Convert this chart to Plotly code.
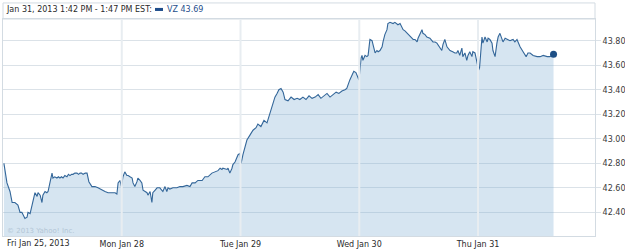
import plotly.graph_objects as go

# ---- data ----
day_labels = ["Fri Jan 25, 2013", "Mon Jan 28", "Tue Jan 29", "Wed Jan 30", "Thu Jan 31"]
session_minutes = 390  # 9:30 - 16:00
y_ticks = [42.40, 42.60, 42.80, 43.00, 43.20, 43.40, 43.60, 43.80]

# minutes after the open, and price
fri_min = [3, 13, 23, 30, 39, 49, 56, 62, 66, 72, 79, 82, 89, 95, 99, 105, 112, 115, 122, 128,
           131, 138, 144, 148, 154, 161, 164, 170, 177, 182, 187, 192, 197, 203, 210, 215, 220,
           225, 230, 236, 243, 248, 253, 258, 263, 270, 276, 282, 292, 302, 312, 325, 335, 345,
           358, 368, 374, 378, 384, 389]
fri_px = [42.80, 42.64, 42.57, 42.48, 42.48, 42.46, 42.40, 42.40, 42.38, 42.35, 42.36, 42.40,
          42.39, 42.46, 42.48, 42.56, 42.53, 42.56, 42.54, 42.48, 42.54, 42.57, 42.56, 42.57,
          42.64, 42.72, 42.68, 42.69, 42.68, 42.69, 42.68, 42.69, 42.68, 42.70, 42.69, 42.71,
          42.70, 42.71, 42.71, 42.72, 42.72, 42.71, 42.72, 42.72, 42.71, 42.72, 42.72, 42.65,
          42.61, 42.61, 42.60, 42.58, 42.57, 42.56, 42.56, 42.56, 42.55, 42.64, 42.66, 42.61]

mon_min = [4, 10, 17, 21, 27, 34, 37, 43, 50, 53, 60, 66, 70, 76, 83, 86, 93, 99, 102, 109, 116,
           125, 135, 142, 148, 152, 158, 168, 181, 191, 201, 214, 224, 231, 241, 250, 264, 273,
           283, 296, 306, 316, 323, 329, 332, 346, 349, 355, 362, 365, 372, 378, 382, 388]
mon_px = [42.69, 42.73, 42.70, 42.70, 42.69, 42.68, 42.64, 42.61, 42.65, 42.68, 42.66, 42.64,
          42.58, 42.57, 42.56, 42.54, 42.57, 42.48, 42.56, 42.58, 42.60, 42.60, 42.57, 42.61,
          42.57, 42.60, 42.59, 42.60, 42.60, 42.61, 42.61, 42.62, 42.61, 42.64, 42.64, 42.66,
          42.66, 42.69, 42.69, 42.72, 42.73, 42.74, 42.76, 42.75, 42.76, 42.75, 42.76, 42.72,
          42.76, 42.79, 42.81, 42.84, 42.87, 42.88]

tue_min = [2, 8, 15, 21, 31, 41, 51, 57, 67, 77, 87, 94, 100, 107, 113, 120, 126, 133, 140, 146,
           156, 166, 176, 186, 195, 205, 215, 225, 235, 245, 255, 264, 274, 284, 294, 304, 314,
           323, 333, 343, 349, 359, 366, 372, 379, 385, 389]
tue_px = [42.80, 42.87, 42.93, 42.99, 43.03, 43.07, 43.09, 43.12, 43.10, 43.15, 43.13, 43.19,
          43.25, 43.29, 43.34, 43.37, 43.40, 43.41, 43.38, 43.32, 43.31, 43.34, 43.32, 43.33,
          43.32, 43.34, 43.32, 43.35, 43.33, 43.34, 43.36, 43.33, 43.35, 43.37, 43.34, 43.36,
          43.38, 43.37, 43.39, 43.40, 43.41, 43.48, 43.52, 43.55, 43.54, 43.50, 43.48]

wed_min = [6, 9, 12, 19, 25, 29, 35, 42, 45, 52, 58, 62, 68, 75, 78, 84, 91, 94, 101, 111, 117,
           124, 127, 134, 140, 144, 150, 157, 167, 177, 183, 190, 193, 199, 206, 209, 216, 222,
           232, 242, 249, 255, 265, 271, 275, 281, 288, 291, 298, 307, 314, 320, 324, 330, 337,
           340, 347, 353, 357, 363, 370, 373, 380, 386]
wed_px = [43.66, 43.68, 43.64, 43.68, 43.67, 43.68, 43.81, 43.80, 43.77, 43.70, 43.72, 43.71,
          43.72, 43.75, 43.79, 43.85, 43.89, 43.94, 43.95, 43.94, 43.95, 43.94, 43.93, 43.94,
          43.91, 43.89, 43.88, 43.86, 43.83, 43.81, 43.81, 43.79, 43.82, 43.86, 43.89, 43.86,
          43.85, 43.83, 43.82, 43.79, 43.79, 43.78, 43.74, 43.72, 43.77, 43.81, 43.75, 43.74,
          43.72, 43.71, 43.70, 43.70, 43.72, 43.68, 43.74, 43.67, 43.70, 43.64, 43.68, 43.71,
          43.67, 43.71, 43.70, 43.63]

thu_min = [2, 5, 10, 13, 16, 23, 30, 33, 39, 46, 49, 56, 62, 66, 72, 79, 82, 89, 95, 105, 115,
           121, 128, 131, 138, 148, 158, 164, 171, 181, 194, 204, 214, 227, 236, 248]
thu_px = [43.56, 43.58, 43.72, 43.83, 43.78, 43.83, 43.79, 43.82, 43.81, 43.78, 43.72, 43.67,
          43.78, 43.83, 43.86, 43.81, 43.79, 43.82, 43.81, 43.80, 43.81, 43.79, 43.81, 43.79,
          43.75, 43.71, 43.67, 43.70, 43.70, 43.68, 43.67, 43.67, 43.68, 43.67, 43.67, 43.69]

days_min = [fri_min, mon_min, tue_min, wed_min, thu_min]
days_px = [fri_px, mon_px, tue_px, wed_px, thu_px]

# ---- build series on a trading-session axis (1 unit = 1 session) ----
xs, ys = [], []
for i, (mins, pxs) in enumerate(zip(days_min, days_px)):
    xs += [i + m / session_minutes for m in mins]
    ys += list(pxs)

LINE = "#336699"
DOT = "#1d4f85"
GRID = "#dbe2e8"
BORDER = "#d3dbe2"
FONT = "DejaVu Sans"
TEXT = "#2a2a2a"

fig = go.Figure()
fig.add_trace(go.Scatter(
    x=xs, y=ys, mode="lines",
    line=dict(color=LINE, width=1.1),
    fill="tozeroy", fillcolor="rgba(120,170,210,0.30)",
    hoverinfo="skip", showlegend=False,
))
fig.add_trace(go.Scatter(
    x=[xs[-1]], y=[ys[-1]], mode="markers",
    marker=dict(color=DOT, size=7), hoverinfo="skip", showlegend=False,
))

shapes = []
# vertical day separators drawn above the fill
for t in range(1, len(day_labels)):
    shapes.append(dict(type="line", xref="x", yref="paper", x0=t, x1=t, y0=0, y1=1,
                       line=dict(color="#e8edf1", width=2), layer="above"))
# header box above the plot
shapes.append(dict(type="rect", xref="paper", yref="paper", x0=0, x1=1, y0=1, y1=1.074,
                   line=dict(color=BORDER, width=1), fillcolor="rgba(0,0,0,0)", layer="below"))
# legend swatch
shapes.append(dict(type="rect", xref="paper", yref="paper", x0=0.2568, x1=0.2703,
                   y0=1.037, y1=1.051, line=dict(width=0), fillcolor="#1f4e8c"))

annotations = [
    dict(text="Jan 31, 2013 1:42 PM - 1:47 PM EST:", xref="paper", yref="paper",
         x=0.002, y=1.046, xanchor="left", yanchor="middle", showarrow=False,
         font=dict(family=FONT, size=8, color=TEXT)),
    dict(text="VZ 43.69", xref="paper", yref="paper",
         x=0.274, y=1.046, xanchor="left", yanchor="middle", showarrow=False,
         font=dict(family=FONT, size=8, color="#1f4e8c")),
    dict(text="© 2013 Yahoo! Inc.", xref="paper", yref="paper",
         x=0.004, y=0.022, xanchor="left", yanchor="middle", showarrow=False,
         font=dict(family=FONT, size=7, color="#b3c6d6")),
    dict(text=day_labels[0], xref="paper", yref="paper",
         x=0.003, y=0, xanchor="left", yanchor="top", yshift=-1, showarrow=False,
         font=dict(family=FONT, size=8, color=TEXT)),
]

fig.update_layout(
    width=625, height=249,
    margin=dict(l=3, r=30, t=19, b=13),
    paper_bgcolor="white", plot_bgcolor="white",
    shapes=shapes, annotations=annotations,
    xaxis=dict(range=[0, 4.985], tickvals=list(range(1, len(day_labels))),
               ticktext=day_labels[1:], showgrid=False, zeroline=False,
               showline=True, mirror=True, linecolor=BORDER, linewidth=1,
               ticks="", tickfont=dict(family=FONT, size=8, color=TEXT),
               automargin=False, fixedrange=True),
    yaxis=dict(side="right", range=[42.207, 43.977], tickvals=y_ticks,
               ticktext=[f"{v:.2f}" for v in y_ticks],
               showgrid=True, gridcolor=GRID, gridwidth=1, zeroline=False,
               showline=True, mirror=True, linecolor=BORDER, linewidth=1,
               ticks="outside", ticklen=5, tickcolor=GRID,
               tickfont=dict(family=FONT, size=8, color="#3a3a3a"),
               automargin=False, fixedrange=True),
)

fig.write_html("out.html", config={"displayModeBar": False})
